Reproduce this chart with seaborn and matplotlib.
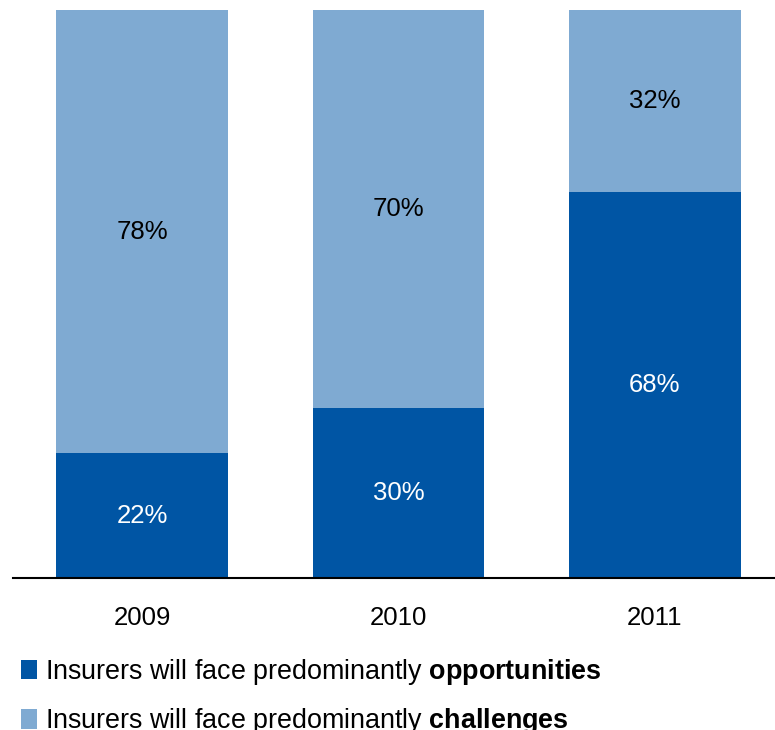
import matplotlib
matplotlib.use("Agg")
import matplotlib.pyplot as plt
from matplotlib.patches import Patch
import seaborn as sns
import pandas as pd

years = ["2009", "2010", "2011"]
opportunities = [22, 30, 68]
challenges = [78, 70, 32]

dark_blue = "#0055A4"
light_blue = "#7FAAD2"

sns.set_theme(style="white")
plt.rcParams["font.family"] = ["Liberation Sans", "DejaVu Sans"]
plt.rcParams["mathtext.fontset"] = "custom"
plt.rcParams["mathtext.rm"] = "Liberation Sans"
plt.rcParams["mathtext.bf"] = "Liberation Sans:bold"
plt.rcParams["text.color"] = "black"

df = pd.DataFrame({"year": years, "opp": opportunities, "chal": challenges})
df["total"] = df["opp"] + df["chal"]

fig = plt.figure(figsize=(7.75, 7.3), dpi=100)
ax = fig.add_axes([13 / 775, 152 / 730, 1 - 13 / 775, 568 / 730])

sns.barplot(data=df, x="year", y="total", color=light_blue, width=0.67,
            saturation=1, linewidth=0, ax=ax)
sns.barplot(data=df, x="year", y="opp", color=dark_blue, width=0.67,
            saturation=1, linewidth=0, ax=ax)

for i, (o, c) in enumerate(zip(opportunities, challenges)):
    ax.text(i, o / 2, f"{o}%", ha="center", va="center", fontsize=18.5,
            color="white")
    ax.text(i, o + c / 2, f"{c}%", ha="center", va="center", fontsize=18.5,
            color="black")

ax.set_xlim(-0.503, 2.468)
ax.set_ylim(0, 100)
ax.set_xlabel("")
ax.set_ylabel("")
ax.set_yticks([])
ax.tick_params(axis="x", length=0, labelsize=18.5, pad=20, colors="black")
for side in ["top", "right", "left"]:
    ax.spines[side].set_visible(False)
ax.spines["bottom"].set_color("black")
ax.spines["bottom"].set_linewidth(1.5)

handles = [Patch(facecolor=dark_blue, edgecolor="none"),
           Patch(facecolor=light_blue, edgecolor="none")]
labels = [r"Insurers will face predominantly $\mathbf{opportunities}$",
          r"Insurers will face predominantly $\mathbf{challenges}$"]
leg = fig.legend(handles, labels, loc="upper left",
                 bbox_to_anchor=(21 / 775, 1 - 657 / 730),
                 frameon=False, fontsize=19.4, handlelength=0.58,
                 handleheight=0.73, handletextpad=0.3, labelspacing=0.72,
                 borderaxespad=0, borderpad=0)
for t in leg.get_texts():
    t.set_color("black")

fig.savefig("out.png", dpi=100)
